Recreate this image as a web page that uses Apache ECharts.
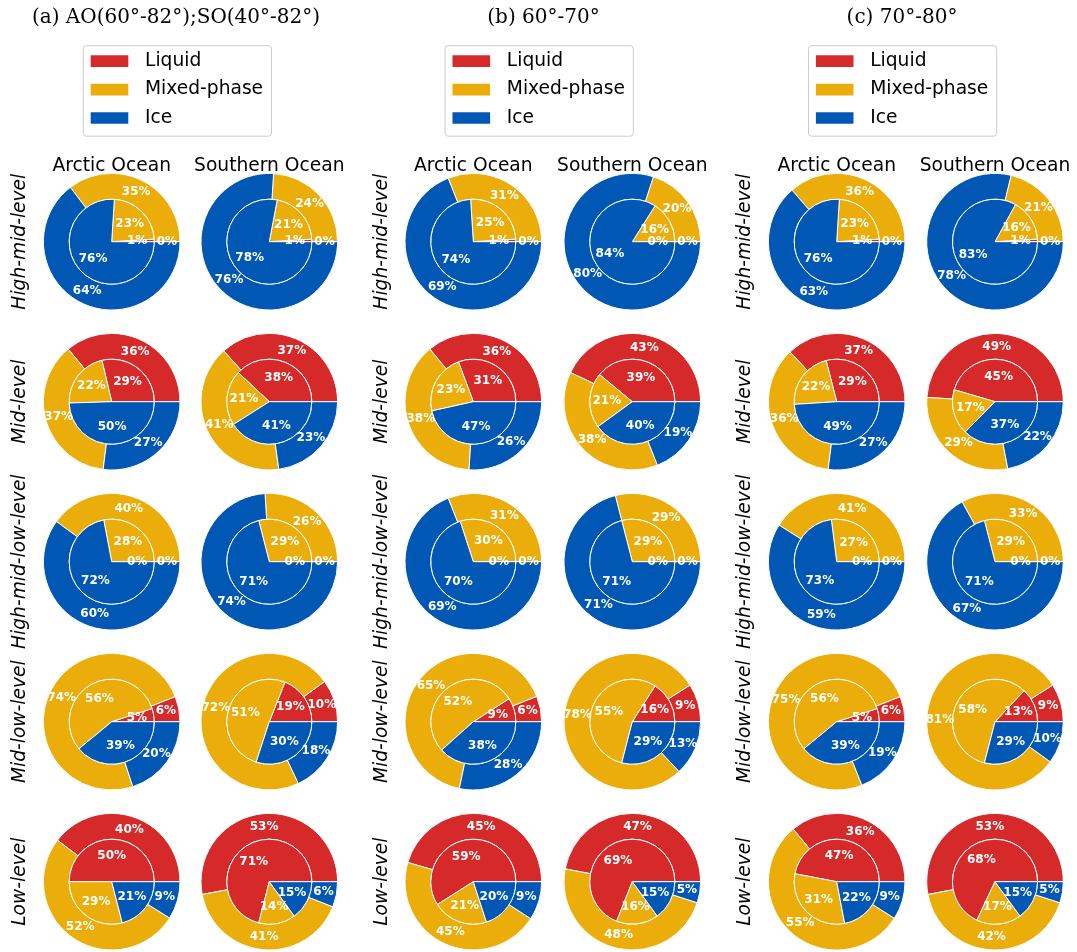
<!DOCTYPE html>
<html>
<head>
<meta charset="utf-8">
<script src="https://cdn.jsdelivr.net/npm/echarts@6/dist/echarts.min.js"></script>
<style>
  html, body { margin: 0; padding: 0; background: #fff; }
  #chart { width: 1077px; height: 952px; }
</style>
</head>
<body>
<div id="chart"></div>
<script>
// Cloud phase shares (%) by level; each entry is [Liquid, Mixed-phase, Ice].
const categories = ['Liquid', 'Mixed-phase', 'Ice'];
const colors = ['#D62A2A', '#EBAD0A', '#0058B4'];
const panelTitles = ['(a) AO(60°-82°);SO(40°-82°)', '(b) 60°-70°', '(c) 70°-80°'];
const oceans = ['Arctic Ocean', 'Southern Ocean'];
const levels = ['High-mid-level', 'Mid-level', 'High-mid-low-level', 'Mid-low-level', 'Low-level'];

// Panel (a): AO 60°-82°, SO 40°-82°
const outerA_Arctic   = [[0, 35, 64], [36, 37, 27], [0, 40, 60], [6, 74, 20], [40, 52, 9]];
const innerA_Arctic   = [[1, 23, 76], [29, 22, 50], [0, 28, 72], [5, 56, 39], [50, 29, 21]];
const outerA_Southern = [[0, 24, 76], [37, 41, 23], [0, 26, 74], [10, 72, 18], [53, 41, 6]];
const innerA_Southern = [[1, 21, 78], [38, 21, 41], [0, 29, 71], [19, 51, 30], [71, 14, 15]];

// Panel (b): 60°-70°
const outerB_Arctic   = [[0, 31, 69], [36, 38, 26], [0, 31, 69], [6, 65, 28], [45, 45, 9]];
const innerB_Arctic   = [[1, 25, 74], [31, 23, 47], [0, 30, 70], [9, 52, 38], [59, 21, 20]];
const outerB_Southern = [[0, 20, 80], [43, 38, 19], [0, 29, 71], [9, 78, 13], [47, 48, 5]];
const innerB_Southern = [[0, 16, 84], [39, 21, 40], [0, 29, 71], [16, 55, 29], [69, 16, 15]];

// Panel (c): 70°-80°
const outerC_Arctic   = [[0, 36, 63], [37, 36, 27], [0, 41, 59], [6, 75, 19], [36, 55, 9]];
const innerC_Arctic   = [[1, 23, 76], [29, 22, 49], [0, 27, 73], [5, 56, 39], [47, 31, 22]];
const outerC_Southern = [[0, 21, 78], [49, 29, 22], [0, 33, 67], [9, 81, 10], [53, 42, 5]];
const innerC_Southern = [[1, 16, 83], [45, 17, 37], [0, 29, 71], [13, 58, 29], [68, 17, 15]];

const panels = [
  { title: panelTitles[0], outer: [outerA_Arctic, outerA_Southern], inner: [innerA_Arctic, innerA_Southern] },
  { title: panelTitles[1], outer: [outerB_Arctic, outerB_Southern], inner: [innerB_Arctic, innerB_Southern] },
  { title: panelTitles[2], outer: [outerC_Arctic, outerC_Southern], inner: [innerC_Arctic, innerC_Southern] }
];

// Layout (pixels)
const pieX = [[111.7, 269.3], [473.3, 632.3], [836.7, 995.0]];
const panelShift = [0, 361.8, 725.2];
const titleX = [176, 543.5, 902];
const rowY0 = 241.7, rowStep = 160;
const rOuter = 68.3, rInner = 42.5;

// Percentage text radii; ECharts pushes 'inside' pie labels 3px outward
// from the ring middle, so the label rings are sized to compensate.
const outerTextR = 55.2, innerTextR = 25.5, insideNudge = 3;
const outerLabelRing = [2 * (outerTextR - insideNudge) - rOuter, rOuter];
const innerLabelRing = [2 * (innerTextR - insideNudge) - rInner, rInner];

const SANS = '"DejaVu Sans", sans-serif';

const pctLabel = {
  show: true,
  position: 'inside',
  formatter: p => p.value + '%',
  color: '#fff',
  fontWeight: 'bold',
  fontSize: 12,
  fontFamily: SANS
};

function toItems(vals, transparent) {
  return vals.map((v, i) => ({
    name: categories[i],
    value: v,
    itemStyle: { color: transparent ? 'rgba(0,0,0,0)' : colors[i] }
  }));
}

function pieBase(center, radius) {
  return {
    type: 'pie',
    center: center,
    radius: radius,
    startAngle: 0,
    clockwise: false,
    minAngle: 0,
    animation: false,
    silent: true,
    avoidLabelOverlap: false,
    labelLine: { show: false },
    emphasis: { disabled: true }
  };
}

const series = [];
const graphics = [];
const legends = [];

panels.forEach((panel, p) => {
  const shift = panelShift[p];

  graphics.push({
    type: 'text', x: titleX[p], y: 18,
    style: { text: panel.title, font: '20px "DejaVu Serif", serif', fill: '#000', align: 'center', verticalAlign: 'middle' }
  });

  legends.push({
    data: categories,
    orient: 'vertical',
    left: 83.3 + shift,
    top: 45.7,
    padding: [6, 8.4, 8.7, 7.4],
    borderColor: '#cccccc',
    borderWidth: 1,
    borderRadius: 3,
    backgroundColor: '#fff',
    icon: 'rect',
    itemWidth: 37.6,
    itemHeight: 11.7,
    itemGap: 9.4,
    itemStyle: { borderWidth: 0 },
    textStyle: { fontSize: 18.67, fontFamily: SANS, color: '#000', padding: [0, 0, 0, 11.7] }
  });

  oceans.forEach((ocean, o) => {
    graphics.push({
      type: 'text', x: pieX[p][o], y: 165.7,
      style: { text: ocean, font: '18.67px ' + SANS, fill: '#000', align: 'center', verticalAlign: 'middle' }
    });
  });

  levels.forEach((lvl, r) => {
    const cy = rowY0 + r * rowStep;
    graphics.push({
      type: 'text', x: 20.1 + shift, y: cy, rotation: Math.PI / 2,
      style: { text: lvl, font: 'italic 18.67px ' + SANS, fill: '#000', align: 'center', verticalAlign: 'middle' }
    });

    oceans.forEach((ocean, o) => {
      const c = [pieX[p][o], cy];
      const outerVals = panel.outer[o][r];
      const innerVals = panel.inner[o][r];

      // outer ring
      series.push(Object.assign(pieBase(c, [rInner, rOuter]), {
        name: ocean + ' outer',
        data: toItems(outerVals, false),
        itemStyle: { borderColor: '#fff', borderWidth: 1 },
        label: { show: false }
      }));
      // inner disc
      series.push(Object.assign(pieBase(c, [0, rInner]), {
        name: ocean + ' inner',
        data: toItems(innerVals, false),
        itemStyle: { borderColor: '#fff', borderWidth: 1 },
        label: { show: false }
      }));
      // outer ring percentages
      series.push(Object.assign(pieBase(c, outerLabelRing), {
        name: ocean + ' outer labels',
        data: toItems(outerVals, true),
        itemStyle: { borderWidth: 0 },
        label: pctLabel
      }));
      // inner disc percentages
      series.push(Object.assign(pieBase(c, innerLabelRing), {
        name: ocean + ' inner labels',
        data: toItems(innerVals, true),
        itemStyle: { borderWidth: 0 },
        label: pctLabel
      }));
    });
  });
});

const chart = echarts.init(document.getElementById('chart'), null, { renderer: 'canvas' });
chart.setOption({
  backgroundColor: '#fff',
  animation: false,
  legend: legends,
  graphic: graphics,
  series: series
});
</script>
</body>
</html>
